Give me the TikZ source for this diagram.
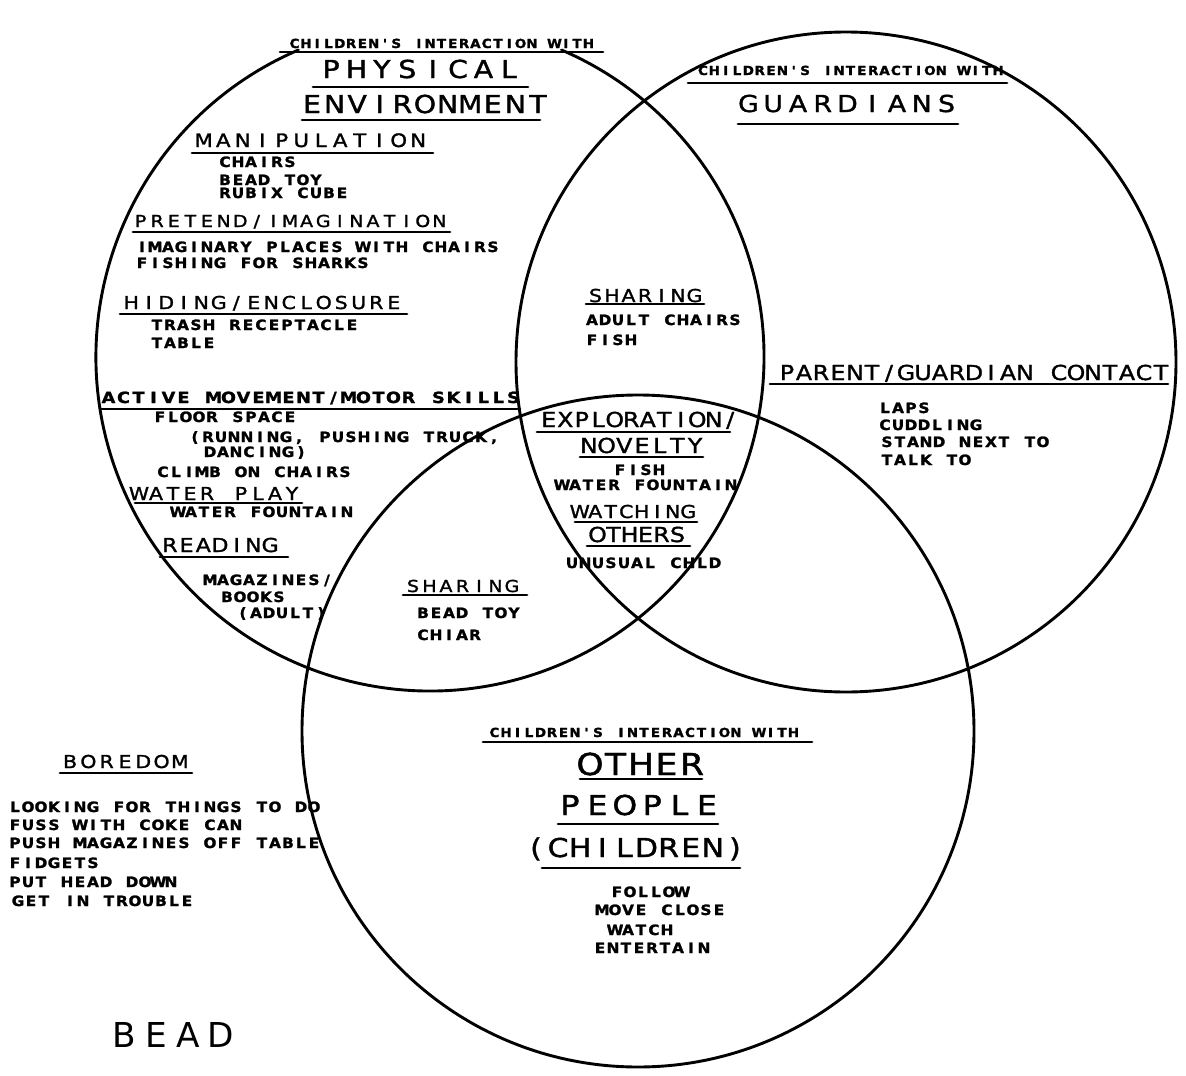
\documentclass[tikz,border=0pt]{standalone}
\usepackage{fontspec}
\setmainfont{DejaVu Sans}
\newfontfamily\headfont[FakeBold=1.5,FakeStretch=1.15]{DejaVu Sans}
\newfontfamily\itemfont[FakeBold=1.5,FakeStretch=1.08]{DejaVu Sans}
\newfontfamily\thinfont{DejaVu Sans}

% set a string letter by letter, each letter centred in a cell of fixed width
\ExplSyntaxOn
\NewDocumentCommand\spaced{mm}
  { \str_map_inline:nn {#2} { \makebox[#1][c]{##1} } }
\ExplSyntaxOff
\newcommand\itm[1]{\spaced{13pt}{#1}}

\begin{document}
\begin{tikzpicture}[x=1pt,y=-1pt,
  ringline/.style={draw, line width=2.9pt},
  ring/.style={circle, ringline, inner sep=0pt, minimum size=#1},
  rule/.style={line width=2.9pt, line cap=round},
  lbl/.style={inner sep=0pt, anchor=base},
  item/.style={lbl, font=\fontsize{14.2}{15}\itemfont\bfseries},
  tag/.style={lbl, font=\fontsize{12.5}{13}\itemfont\bfseries},
  head/.style={lbl, font=\fontsize{#1}{#1}\headfont},
  boldhead/.style={lbl, font=\fontsize{#1}{#1}\headfont\bfseries},
]
\fill[white] (0,0) rectangle (1186,1076);
\useasboundingbox (0,0) rectangle (1186,1076);

% ---------- the three circles ----------
% the physical-environment circle: centre (430,357), radius 334;
% its top is hidden under the heading strip, so it is drawn as an arc
% from one end of that strip round to the other
\coordinate (physL) at (298.4,50);
\draw[ringline, line cap=round] (physL) arc[start angle=113.2, end angle=426.8, radius=334pt];
\node[ring=660pt] (guardRing) at (846,362) {};
\node[ring=672pt] (peopleRing) at (638,731) {};

% ---------- physical environment ----------
\node[tag] (ciwA) at (441.5,48) {\spaced{11.3pt}{CHILDREN'S INTERACTION WITH}};
\node[head=24.7] (physical) at (420,78) {\spaced{25.4pt}{PHYSICAL}};
\node[head=24.7] (environment) at (425,113) {\spaced{22.6pt}{ENVIRONMENT}};
\draw[rule] (280,52) -- (603,52);
\draw[rule] (313,87) -- (528,87);
\draw[rule] (302,120) -- (540,120);

\node[head=18.5] (manip) at (311,147) {\spaced{19.5pt}{MANIPULATION}};
\draw[rule] (192,153) -- (433,153);
\node[item] (m1) at (257.5,167) {\itm{CHAIRS}};
\node[item] (m2) at (270.5,185) {\itm{BEAD TOY}};
\node[item] (m3) at (283.5,198) {\itm{RUBIX CUBE}};

\node[head=16.5] (pretend) at (290,227) {\spaced{16.6pt}{PRETEND/IMAGINATION}};
\draw[rule] (133,232) -- (450,232);
\node[item] (p1) at (317.5,252) {\itm{IMAGINARY PLACES WITH CHAIRS}};
\node[item] (p2) at (252.5,268) {\itm{FISHING FOR SHARKS}};

\node[head=17.8] (hiding) at (262.5,309) {\spaced{17.5pt}{HIDING/ENCLOSURE}};
\draw[rule] (120,314) -- (407,314);
\node[item] (h1) at (254.5,330) {\itm{TRASH RECEPTACLE}};
\node[item] (h2) at (183,348) {\itm{TABLE}};

\node[boldhead=15.4] (active) at (311,403) {\spaced{15pt}{ACTIVE MOVEMENT/MOTOR SKILLS}};
\draw[rule] (100,409) -- (520,409);
\node[item] (a1) at (225,422) {\itm{FLOOR SPACE}};
\node[item] (a2) at (344.5,442) {\itm{(RUNNING, PUSHING TRUCK,}};
\node[item] (a3) at (255.5,457) {\itm{DANCING)}};
\node[item] (a4) at (254,477) {\itm{CLIMB ON CHAIRS}};

\node[head=17.8] (water) at (215.5,500) {\spaced{17pt}{WATER PLAY}};
\draw[rule] (135,503) -- (302,503);
\node[item] (w1) at (262.5,517) {\itm{WATER FOUNTAIN}};

\node[head=19.2] (reading) at (220,552) {\spaced{16.7pt}{READING}};
\draw[rule] (160,557) -- (288,557);
\node[item] (r1) at (268.5,585) {\itm{MAGAZINES/}};
\node[item] (r2) at (253,602) {\itm{BOOKS}};
\node[item] (r3) at (282,618) {\itm{(ADULT)}};

% ---------- guardians ----------
\node[tag] (ciwB) at (850.5,75) {\spaced{11.35pt}{CHILDREN'S INTERACTION WITH}};
\draw[rule] (688,83) -- (1007,83);
\node[head=23.3] (guardians) at (847.5,112) {\spaced{24.75pt}{GUARDIANS}};
\draw[rule] (738,124) -- (958,124);

\node[head=20.6] (contact) at (974,380) {\spaced{17pt}{PARENT/GUARDIAN CONTACT}};
\draw[rule] (770,384) -- (1168,384);
\node[item] (g1) at (904.5,413) {\itm{LAPS}};
\node[item] (g2) at (930.5,430) {\itm{CUDDLING}};
\node[item] (g3) at (965,447) {\itm{STAND NEXT TO}};
\node[item] (g4) at (926,465) {\itm{TALK TO}};

% ---------- physical environment and guardians ----------
\node[head=17.8] (shareA) at (645,302) {\spaced{16.5pt}{SHARING}};
\draw[rule] (586,304) -- (704,304);
\node[item] (s1) at (663.5,325) {\itm{ADULT CHAIRS}};
\node[item] (s2) at (611.5,345) {\itm{FISH}};

% ---------- all three ----------
\node[head=20.6] (explore) at (639.5,427) {\spaced{16.5pt}{EXPLORATION/}};
\draw[rule] (537,432) -- (730,432);
\node[head=20.6] (novelty) at (642,453) {\spaced{17.7pt}{NOVELTY}};
\draw[rule] (580,457) -- (703,457);
\node[item] (e1) at (639.5,475) {\itm{FISH}};
\node[item] (e2) at (646.5,490) {\itm{WATER FOUNTAIN}};
\node[head=17.8] (watching) at (634,518) {\spaced{15.5pt}{WATCHING}};
\draw[rule] (575,522) -- (697,522);
\node[head=20.6] (others) at (637.5,542) {\spaced{16pt}{OTHERS}};
\draw[rule] (587,546) -- (690,546);
\node[item] (o1) at (643.5,568) {\itm{UNUSUAL CHLD}};

% ---------- physical environment and other people ----------
\node[head=16.5] (shareB) at (462.5,592) {\spaced{16.5pt}{SHARING}};
\draw[rule] (403,595) -- (527,595);
\node[item] (b1) at (468.5,618) {\itm{BEAD TOY}};
\node[item] (b2) at (449,640) {\itm{CHIAR}};

% ---------- other people ----------
\node[tag] (ciwC) at (644,737) {\spaced{11.5pt}{CHILDREN'S INTERACTION WITH}};
\draw[rule] (483,742) -- (812,742);
\node[head=30.2] (other) at (641,775) {\spaced{25.5pt}{OTHER}};
\draw[rule] (580,779) -- (702,779);
\node[head=27.4] (people) at (638.5,815) {\spaced{27.4pt}{PEOPLE}};
\draw[rule] (558,824) -- (718,824);
\node[head=26] (children) at (635.5,857) {\spaced{22.1pt}{(CHILDREN)}};
\draw[rule] (542,868) -- (740,868);
\node[item] (c1) at (649.5,897) {\itm{FOLLOW}};
\node[item] (c2) at (660.5,915) {\itm{MOVE CLOSE}};
\node[item] (c3) at (641,935) {\itm{WATCH}};
\node[item] (c4) at (652,953) {\itm{ENTERTAIN}};

% ---------- outside the circles ----------
\node[head=17.8] (boredom) at (125,768) {\spaced{18.3pt}{BOREDOM}};
\draw[rule] (60,773) -- (192,773);
\node[item] (d1) at (164.5,812) {\itm{LOOKING FOR THINGS TO DO}};
\node[item] (d2) at (125.5,830) {\itm{FUSS WITH COKE CAN}};
\node[item] (d3) at (164.5,848) {\itm{PUSH MAGAZINES OFF TABLE}};
\node[item] (d4) at (54,868) {\itm{FIDGETS}};
\node[item] (d5) at (93,887) {\itm{PUT HEAD DOWN}};
\node[item] (d6) at (102.5,906) {\itm{GET IN TROUBLE}};

\node[lbl, font=\fontsize{34.3}{35}\thinfont] (bead) at (172.5,1047) {\spaced{32pt}{BEAD}};
\end{tikzpicture}
\end{document}
